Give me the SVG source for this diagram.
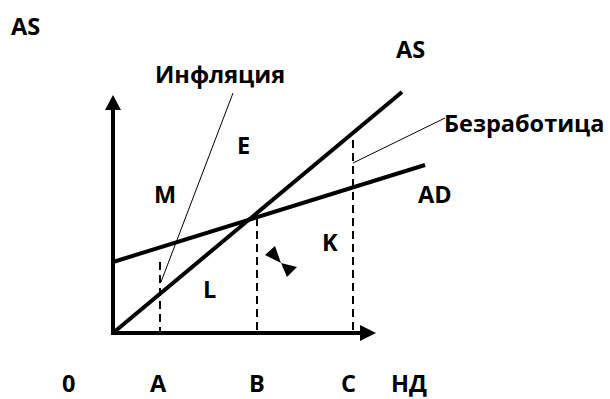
<svg xmlns="http://www.w3.org/2000/svg" width="610" height="399" viewBox="0 0 610 399">
<style>
text{font-family:"Open Sans","Liberation Sans",sans-serif;font-weight:bold;font-size:23.5px;fill:#000}
.thick{stroke:#000;stroke-width:4;fill:none}
.thin{stroke:#000;stroke-width:1;fill:none}
.dash{stroke:#000;stroke-width:2;fill:none;stroke-dasharray:8 5}
</style>
<rect width="610" height="399" fill="#fff"/>
<g id="axes">
<line class="thick" x1="113" y1="335" x2="113" y2="106"/>
<polygon points="113,95 105,110 121,110" fill="#000"/>
<line class="thick" x1="111" y1="333" x2="362" y2="333"/>
<polygon points="376,333 360,325 360,341" fill="#000"/>
</g>
<g id="connectors">
<line class="thick" x1="113" y1="333" x2="402" y2="92"/>
<line class="thick" x1="113" y1="262" x2="425" y2="165"/>
<line class="dash" x1="160" y1="262" x2="160" y2="333"/>
<line class="dash" x1="257" y1="218" x2="257" y2="333"/>
<line class="dash" x1="353" y1="140" x2="353" y2="333"/>
<line class="thin" x1="233" y1="93" x2="161" y2="282"/>
<line class="thin" x1="353" y1="163" x2="445" y2="118"/>
<polygon points="265,255 275,246 281,263" fill="#000"/>
<polygon points="281,263 297,267 287,277" fill="#000"/>
</g>
<g id="labels">
<text x="11" y="35">AS</text>
<text x="155" y="83">Инфляция</text>
<text x="396" y="58">AS</text>
<text x="237" y="154">E</text>
<text x="444" y="132">Безработица</text>
<text x="154" y="203">M</text>
<text x="418" y="203">AD</text>
<text x="322" y="251">K</text>
<text x="203" y="298">L</text>
<text x="62" y="392">0</text>
<text x="150" y="392">A</text>
<text x="249" y="392">B</text>
<text x="341" y="392">C</text>
<text x="391" y="392">НД</text>
</g>
</svg>
